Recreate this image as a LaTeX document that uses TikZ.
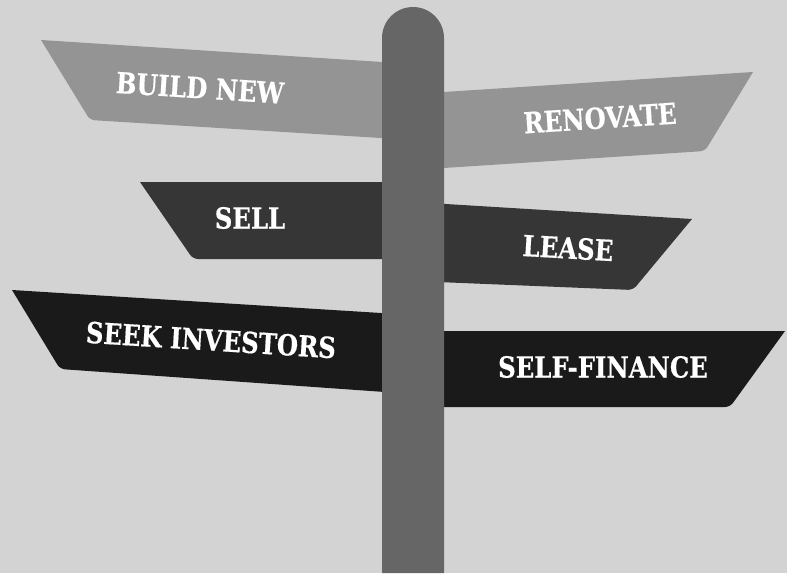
\documentclass[tikz,border=0pt]{standalone}
\usepackage{fontspec}
\newfontfamily\signfont[FakeStretch=0.84,BoldFeatures={FakeBold=0.5}]{DejaVu Serif}

\definecolor{backdrop}{HTML}{D3D3D3}
\definecolor{postgray}{HTML}{666666}
\definecolor{toprow}{HTML}{949494}
\definecolor{midrow}{HTML}{363636}
\definecolor{lowrow}{HTML}{1A1A1A}

\begin{document}
\begin{tikzpicture}[x=1pt,y=-1pt,
	signtext/.style={text=white, inner sep=0pt,
		font=\signfont\bfseries\fontsize{29}{29}\selectfont}]

	\fill[backdrop] (0,0) rectangle (787,573);
	\useasboundingbox (0,0) rectangle (787,573);

	% boards on the left
	\fill[toprow] (413,64) -- (413,140) [rounded corners=5] -- (90,120) [sharp corners] -- (41,40) -- cycle;
	\fill[midrow] (413,182) -- (413,259) [rounded corners=5] -- (193,259) [sharp corners] -- (140,182) -- cycle;
	\fill[lowrow] (413,315) -- (413,394) [rounded corners=5] -- (60,369) [sharp corners] -- (12,290) -- cycle;

	% boards on the right
	\fill[toprow] (413,94) -- (753,72) [rounded corners=5] -- (705,151) [sharp corners] -- (413,170) -- cycle;
	\fill[midrow] (413,202) -- (692,219) [rounded corners=5] -- (633,290) [sharp corners] -- (413,281) -- cycle;
	\fill[lowrow] (413,331) -- (785,331) [rounded corners=5] -- (730,407) [sharp corners] -- (413,407) -- cycle;

	% the post
	\fill[postgray] (382,573) -- (382,38) arc(180:360:31) -- (444,573) -- cycle;

	\node[signtext, rotate=-3.7] (build) at (200,88) {BUILD NEW};
	\node[signtext, rotate=3.7] (renovate) at (600,118) {RENOVATE};
	\node[signtext] (sell) at (250,218) {SELL};
	\node[signtext, rotate=-3.3] (lease) at (568,248) {LEASE};
	\node[signtext, rotate=-3.6] (investors) at (211,340) {SEEK INVESTORS};
	\node[signtext] (selffinance) at (603,367) {SELF-FINANCE};

\end{tikzpicture}
\end{document}
